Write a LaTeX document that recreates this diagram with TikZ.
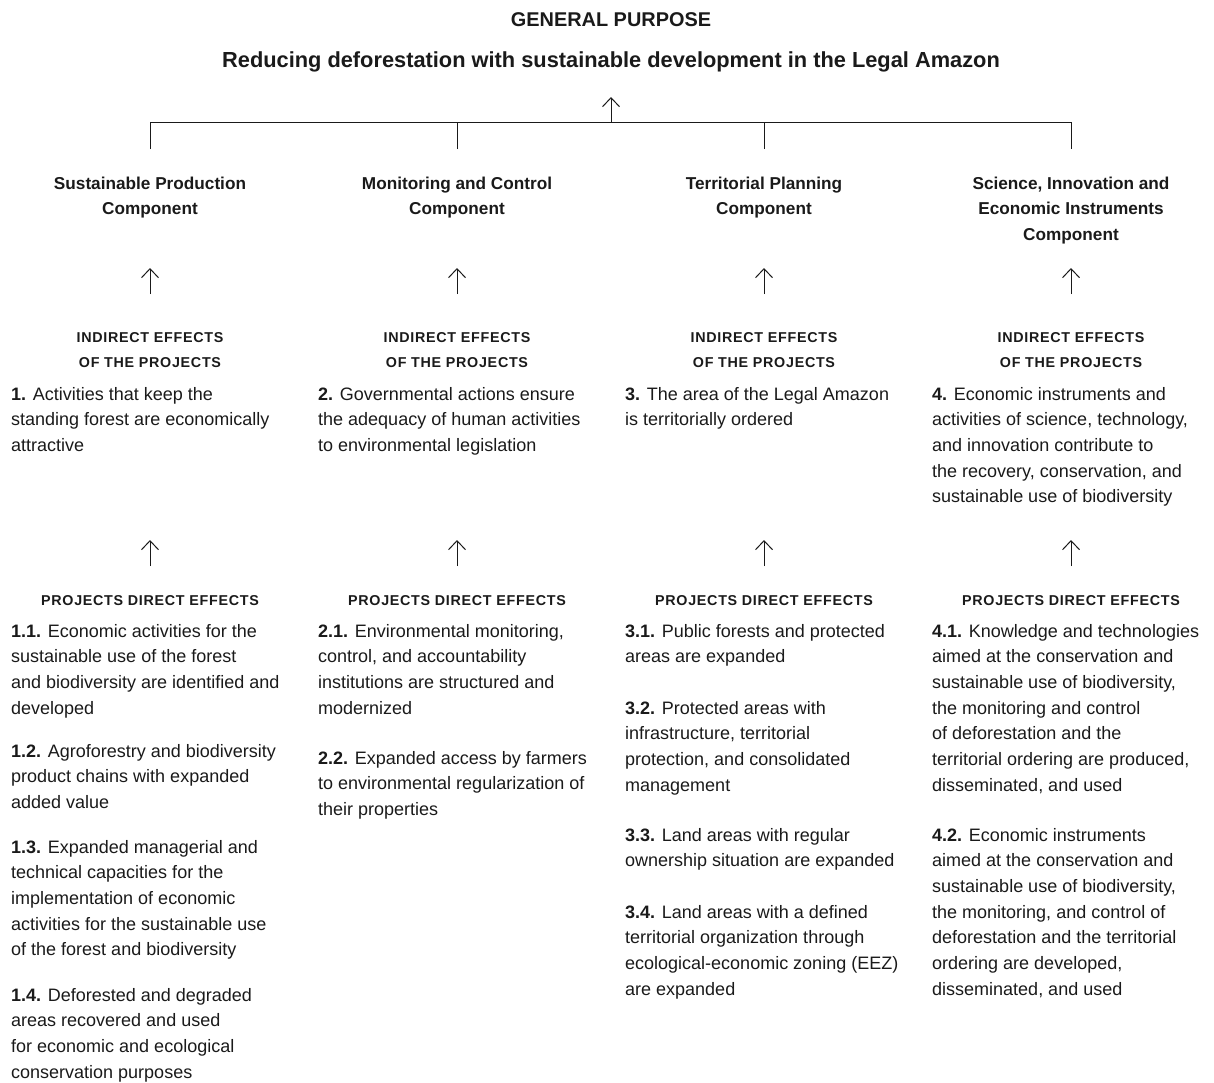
\documentclass[tikz,border=0pt]{standalone}
\usepackage{fontspec}
\setmainfont{Liberation Sans}
\newfontfamily\capsfont[LetterSpace=5]{Liberation Sans}
\usetikzlibrary{arrows.meta}
\definecolor{ink}{HTML}{1A1A1A}
\tikzset{
  bodytext/.style={anchor=base west, inner sep=0pt, text=ink, font=\fontsize{18}{25.7}\selectfont},
  comphead/.style={anchor=base, inner sep=0pt, text=ink, font=\fontsize{17.2}{25.5}\selectfont\bfseries},
  caphead/.style={anchor=base, inner sep=0pt, text=ink, font=\capsfont\fontsize{14.3}{25.5}\selectfont\bfseries},
  link/.style={draw=ink, line width=1pt},
  arr/.style={link, -{Straight Barb[length=9pt,width=17pt,line width=1pt]}}
}
\newcommand{\lpar}[1]{\parbox[t]{300pt}{\raggedright #1}}
\newcommand{\cpar}[1]{\parbox[t]{290pt}{\centering #1}}
\begin{document}
\begin{tikzpicture}[x=1pt,y=-1pt]
\useasboundingbox (0,0) rectangle (1214,1082);
% titles
\node[anchor=base, inner sep=0pt, text=ink, font=\fontsize{19.9}{24}\selectfont\bfseries] (gp) at (611,26) {GENERAL PURPOSE};
\node[anchor=base, inner sep=0pt, text=ink, font=\fontsize{21.8}{26}\selectfont\bfseries] (title) at (611,67) {Reducing deforestation with sustainable development in the Legal Amazon};
% components
\node[comphead] (c1) at (150,189) {\cpar{Sustainable Production\\Component}};
\node[comphead] (c2) at (457,189) {\cpar{Monitoring and Control\\Component}};
\node[comphead] (c3) at (764,189) {\cpar{Territorial Planning\\Component}};
\node[comphead] (c4) at (1071,189) {\cpar{Science, Innovation and\\Economic Instruments\\Component}};
% tree connectors
\coordinate (hub) at (611,122);
\coordinate (hubtip) at (611,97);
\coordinate (hl) at (150,122);
\coordinate (hr) at (1071,122);
\coordinate (j1) at (150,149);
\coordinate (j2) at (457,149);
\coordinate (j3) at (764,149);
\coordinate (j4) at (1071,149);
\draw[link] (j1) -- (hl) -- (hr) -- (j4);
\draw[link] (j2) -- (j2 |- hub);
\draw[link] (j3) -- (j3 |- hub);
\draw[arr] (hub) -- (hubtip);
% indirect headings
\foreach \i/\x in {1/150,2/457,3/764,4/1071}{
  \node[caphead] (ih\i) at (\x,342) {\cpar{INDIRECT EFFECTS\\OF THE PROJECTS}};
  \node[caphead] (dh\i) at (\x,605) {PROJECTS DIRECT EFFECTS};
  \coordinate (ua\i) at (\x,294);
  \coordinate (ub\i) at (\x,268);
  \coordinate (la\i) at (\x,566);
  \coordinate (lb\i) at (\x,540);
  \draw[arr] (ua\i) -- (ub\i);
  \draw[arr] (la\i) -- (lb\i);
}
% indirect bodies
\node[bodytext] (i1) at (11,400) {\lpar{\textbf{1.} Activities that keep the\\standing forest are economically\\attractive}};
\node[bodytext] (i2) at (318,400) {\lpar{\textbf{2.} Governmental actions ensure\\the adequacy of human activities\\to environmental legislation}};
\node[bodytext] (i3) at (625,400) {\lpar{\textbf{3.} The area of the Legal Amazon\\is territorially ordered}};
\node[bodytext] (i4) at (932,400) {\lpar{\textbf{4.} Economic instruments and\\activities of science, technology,\\and innovation contribute to\\the recovery, conservation, and\\sustainable use of biodiversity}};
% direct effects column 1
\node[bodytext] (d11) at (11,637) {\lpar{\textbf{1.1.} Economic activities for the\\sustainable use of the forest\\and biodiversity are identified and\\developed}};
\node[bodytext] (d12) at (11,757) {\lpar{\textbf{1.2.} Agroforestry and biodiversity\\product chains with expanded\\added value}};
\node[bodytext] (d13) at (11,853) {\lpar{\textbf{1.3.} Expanded managerial and\\technical capacities for the\\implementation of economic\\activities for the sustainable use\\of the forest and biodiversity}};
\node[bodytext] (d14) at (11,1001) {\lpar{\textbf{1.4.} Deforested and degraded\\areas recovered and used\\for economic and ecological\\conservation purposes}};
% column 2
\node[bodytext] (d21) at (318,637) {\lpar{\textbf{2.1.} Environmental monitoring,\\control, and accountability\\institutions are structured and\\modernized}};
\node[bodytext] (d22) at (318,764) {\lpar{\textbf{2.2.} Expanded access by farmers\\to environmental regularization of\\their properties}};
% column 3
\node[bodytext] (d31) at (625,637) {\lpar{\textbf{3.1.} Public forests and protected\\areas are expanded}};
\node[bodytext] (d32) at (625,714) {\lpar{\textbf{3.2.} Protected areas with\\infrastructure, territorial\\protection, and consolidated\\management}};
\node[bodytext] (d33) at (625,841) {\lpar{\textbf{3.3.} Land areas with regular\\ownership situation are expanded}};
\node[bodytext] (d34) at (625,918) {\lpar{\textbf{3.4.} Land areas with a defined\\territorial organization through\\ecological-economic zoning (EEZ)\\are expanded}};
% column 4
\node[bodytext] (d41) at (932,637) {\lpar{\textbf{4.1.} Knowledge and technologies\\aimed at the conservation and\\sustainable use of biodiversity,\\the monitoring and control\\of deforestation and the\\territorial ordering are produced,\\disseminated, and used}};
\node[bodytext] (d42) at (932,841) {\lpar{\textbf{4.2.} Economic instruments\\aimed at the conservation and\\sustainable use of biodiversity,\\the monitoring, and control of\\deforestation and the territorial\\ordering are developed,\\disseminated, and used}};
\end{tikzpicture}
\end{document}
